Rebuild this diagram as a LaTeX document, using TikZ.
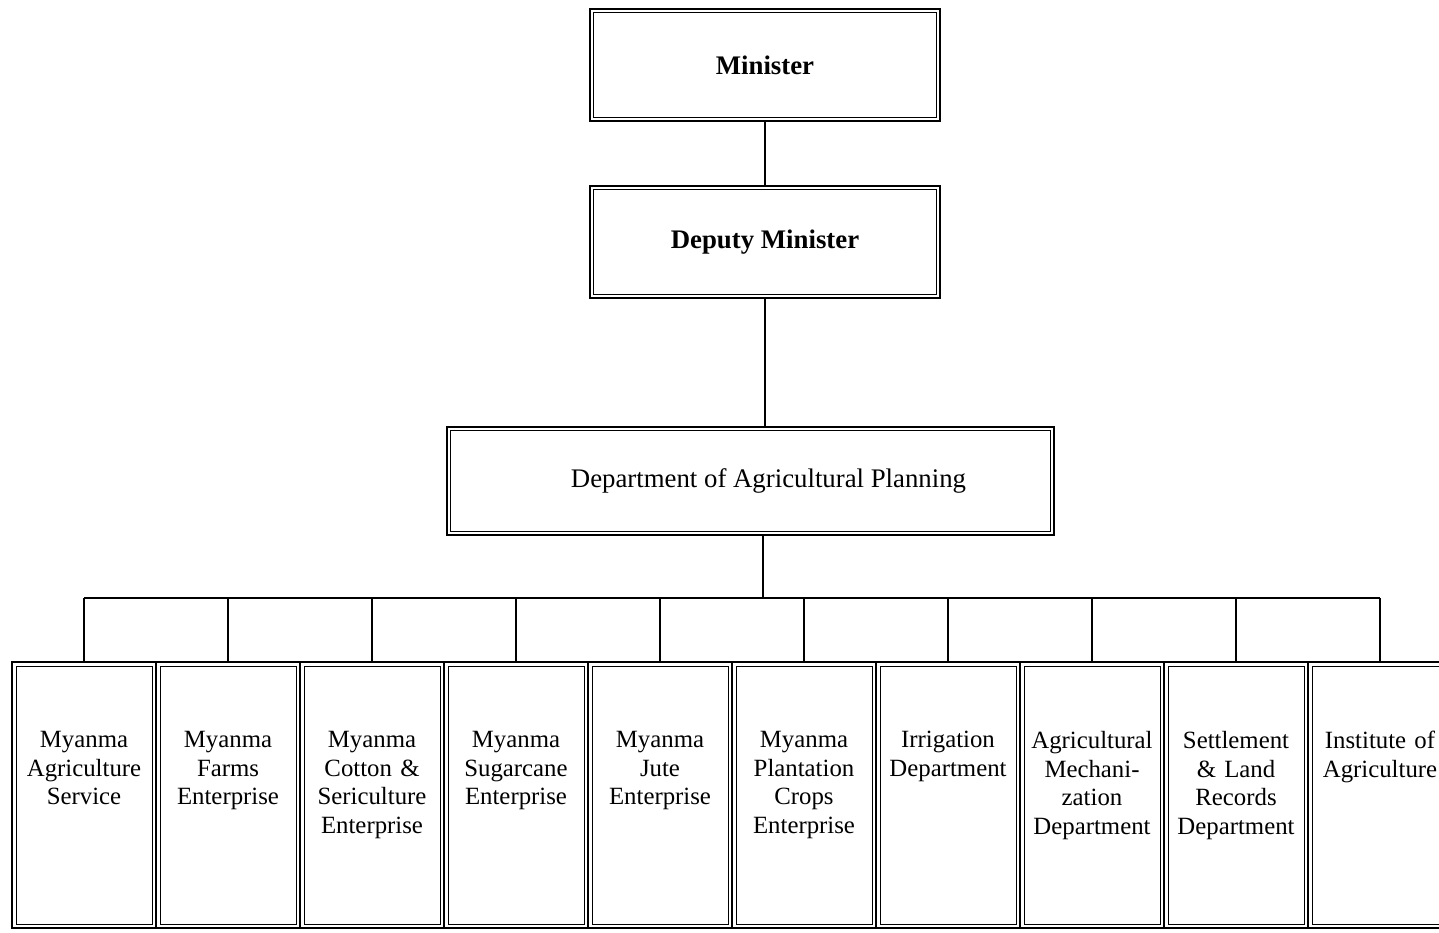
\documentclass[tikz,border=0pt]{standalone}
\usepackage{fontspec}
\setmainfont{Liberation Serif}
\usetikzlibrary{positioning}
\tikzset{
		chief box/.style={
			rectangle,
			draw=black,
			line width=1.3pt,
			align=center,
			minimum width=175pt,
			minimum height=56pt,
			font=\fontsize{13.4}{16}\selectfont
		},
		unit box/.style={
			rectangle,
			draw=black,
			line width=1pt,
			minimum width=72pt,
			minimum height=133pt,
			inner sep=0pt
		},
		unit text/.style={
			align=center,
			text width=70pt,
			inner sep=0pt,
			font=\fontsize{12.4}{14.3}\selectfont
		},
		inner frame/.style={line width=0.4pt},
		link/.style={line width=1pt}
	}
\begin{document}
\begin{tikzpicture}[x=0.5pt, y=-0.5pt]
			\useasboundingbox (0,0) rectangle (1439,932);
			\clip (0,0) rectangle (1439,932);
			\node [chief box, font=\bfseries\fontsize{13.4}{16}\selectfont] (min) at (765,65) {Minister};
			\node [chief box, font=\bfseries\fontsize{13.4}{16}\selectfont] (dep) at (765,242) {Deputy Minister};
			\node [chief box, minimum width=303.5pt, minimum height=54pt] (dap) at (750.5,481) {\hspace*{18pt}Department of Agricultural Planning};
			\foreach \n in {min,dep,dap}
				\draw [inner frame] ([shift={(5,5)}]\n.north west) rectangle ([shift={(-5,-5)}]\n.south east);
			% the ten units under the department
			\foreach \t [count=\i] in {
				{Myanma\\Agriculture\\Service},
				{Myanma\\Farms\\Enterprise},
				{Myanma\\Cotton \&\\Sericulture\\Enterprise},
				{Myanma\\Sugarcane\\Enterprise},
				{Myanma\\Jute\\Enterprise},
				{Myanma\\Plantation\\Crops\\Enterprise},
				{Irrigation\\Department},
				{Agricultural\\Mechani-\\zation\\Department},
				{Settlement\\\& Land\\Records\\Department},
				{Institute of\\Agriculture}}
			{
				\node [unit box] (u\i) at (84+144*\i-144,795) {};
				\draw [inner frame] ([shift={(5,5)}]u\i.north west) rectangle ([shift={(-5,-5)}]u\i.south east);
				\node [unit text, below=35pt of u\i.north] (t\i) {\t};
			}
			\coordinate (bus) at (763,598);
			\draw [link] (min) -- (dep);
			\draw [link] (dep.south) -- (dep.south |- dap.north);
			\draw [link] (dap.south -| bus) -- (bus);
			\draw [link] (u1.north |- bus) -- (u10.north |- bus);
			\foreach \i in {1,...,10}
				\draw [link] (u\i.north |- bus) -- (u\i.north);
		\end{tikzpicture}
\end{document}
